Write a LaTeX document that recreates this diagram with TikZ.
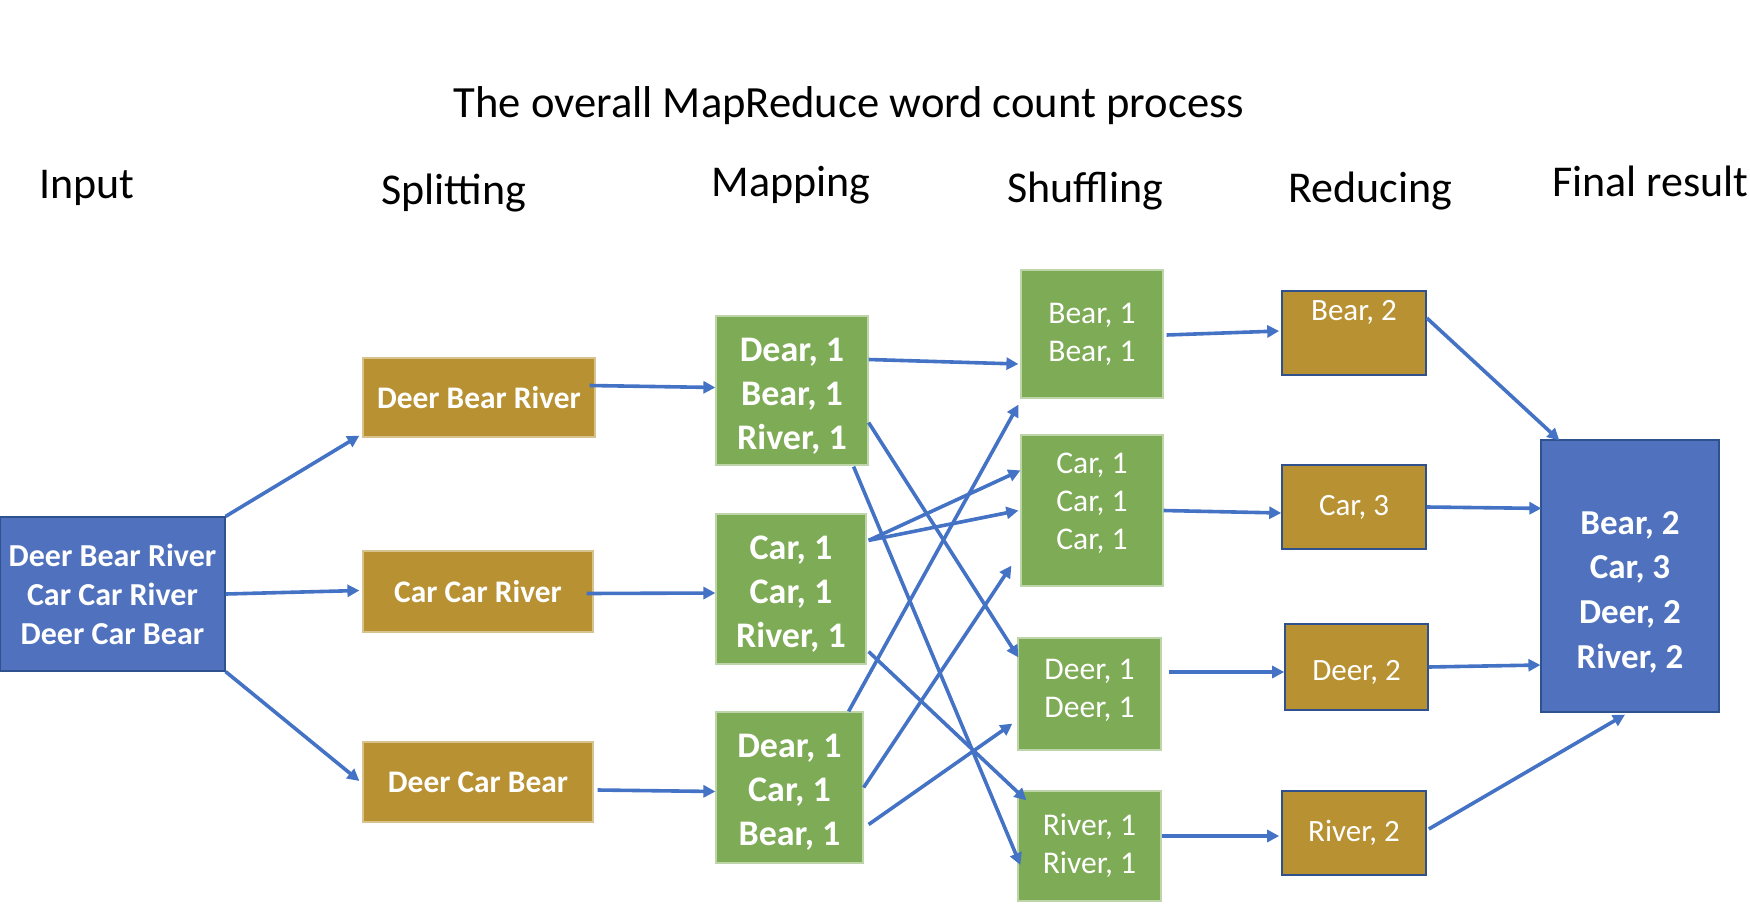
\documentclass[tikz,border=0pt]{standalone}
\usepackage{fontspec}
\setmainfont{Carlito}
\usetikzlibrary{arrows.meta,calc}
\definecolor{gold}{HTML}{B89232}
\definecolor{mgreen}{HTML}{7EAB55}
\definecolor{mblue}{HTML}{5072BE}
\definecolor{dblue}{HTML}{2F528F}
\definecolor{arr}{HTML}{4472C4}
\begin{document}
\begin{tikzpicture}[x=0.5pt,y=-0.5pt,
  box/.style={rectangle, inner sep=0pt, text=white, align=center},
  inbox/.style={box, fill=mblue, draw=dblue, line width=0.6pt},
  splitbox/.style={box, fill=gold, draw=gold!55!white, line width=0.6pt, font=\bfseries\fontsize{15.7}{19}\selectfont},
  mapbox/.style={box, fill=mgreen, draw=mgreen!50!white, line width=0.6pt},
  maptext/.style={box, font=\bfseries\fontsize{18}{22}\selectfont},
  shufbox/.style={box, fill=mgreen, draw=mgreen!50!white, line width=0.6pt, font=\fontsize{15.8}{19}\selectfont},
  shuftext/.style={box, font=\fontsize{15.8}{19}\selectfont},
  redbox/.style={box, fill=gold, draw=dblue, line width=0.8pt, font=\fontsize{15.5}{19}\selectfont},
  redtext/.style={box, font=\fontsize{15.5}{19}\selectfont},
  head/.style={anchor=base west, inner sep=0pt, font=\fontsize{22}{26}\selectfont},
  conn/.style={draw=arr, line width=1.8pt, -{Triangle[length=6pt,width=6pt]}},
]
\useasboundingbox (0,0) rectangle (1750,910);

% title and headings
\node[anchor=base, inner sep=0pt, font=\fontsize{22.3}{26}\selectfont] (title) at (849,117) {The overall MapReduce word count process};
\node[head] (hinput) at (39,198) {Input};
\node[head] (hsplit) at (381,204) {Splitting};
\node[head] (hmap) at (711,196) {Mapping};
\node[head] (hshuf) at (1007,202) {Shuffling};
\node[head] (hred) at (1288,202) {Reducing};
\node[head] (hfinal) at (1552,196) {Final result};

% input
\node[inbox, font=\bfseries\fontsize{16}{19.5}\selectfont, minimum width=112.5pt, minimum height=77pt] (input) at (112.5,594)
  {Deer Bear River\\Car Car River\\Deer Car Bear};

% splitting
\node[splitbox, minimum width=116pt, minimum height=39.5pt] (split1) at (479,397.5) {Deer Bear River};
\node[splitbox, minimum width=115pt, minimum height=40.5pt] (split2) at (478,591.5) {Car Car River};
\node[splitbox, minimum width=115pt, minimum height=40pt] (split3) at (478,782) {Deer Car Bear};

% mapping
\node[mapbox, minimum width=76pt, minimum height=74.5pt] (map1) at (792,390.5) {};
\node[maptext] (map1t) at ($(map1.center)+(0,6)$) {Dear, 1\\Bear, 1\\River, 1};
\node[mapbox, minimum width=75pt, minimum height=75pt] (map2) at (791,589) {};
\node[maptext] (map2t) at ($(map2.center)+(0,5)$) {Car, 1\\Car, 1\\River, 1};
\node[mapbox, minimum width=73.5pt, minimum height=75.5pt] (map3) at (789.5,787.5) {};
\node[maptext] (map3t) at ($(map3.center)+(0,5)$) {Dear, 1\\Car, 1\\Bear, 1};

% shuffling
\node[shufbox, minimum width=71pt, minimum height=64pt] (shuf1) at (1092,334) {Bear, 1\\Bear, 1};
\node[shufbox, minimum width=71pt, minimum height=75.5pt] (shuf2) at (1092,510.5) {};
\node[shuftext] (shuf2t) at ($(shuf2.center)+(0,-7)$) {Car, 1\\Car, 1\\Car, 1};
\node[shufbox, minimum width=71.5pt, minimum height=56pt] (shuf3) at (1089.5,694) {};
\node[shuftext] (shuf3t) at ($(shuf3.center)+(0,-4)$) {Deer, 1\\Deer, 1};
\node[shufbox, minimum width=71.5pt, minimum height=55pt] (shuf4) at (1089.5,846) {River, 1\\River, 1};

% reducing
\node[redbox, minimum width=72pt, minimum height=42pt] (red1) at (1354,333) {};
\node[redtext] (red1t) at ($(red1.north)+(0,22)$) {Bear, 2};
\node[redbox, minimum width=72pt, minimum height=42pt] (red2) at (1354,507) {Car, 3};
\node[redbox, minimum width=71.5pt, minimum height=43pt] (red3) at (1356.5,667) {};
\node[redtext] (red3t) at ($(red3.center)+(0,5)$) {Deer, 2};
\node[redbox, minimum width=72pt, minimum height=42pt] (red4) at (1354,833) {River, 2};

% final
\node[inbox, minimum width=89pt, minimum height=136pt] (final) at (1630,576) {};
\node[box, font=\bfseries\fontsize{17.5}{22.3}\selectfont] (finalt) at ($(final.center)+(0,16)$)
  {Bear, 2\\Car, 3\\Deer, 2\\River, 2};

% connectors
\draw[conn] (input.north east) -- ($(split1.south west)+(-3,-2)$);
\draw[conn] (input.east) -- ($(split2.west)+(-3,-1)$);
\draw[conn] (input.south east) -- ($(split3.west)+(-3,-1)$);

\draw[conn] ($(split1.east)+(-6,-12)$) -- ($(map1.west)+(0,-3)$);
\draw[conn] ($(split2.east)+(-7,2)$) -- ($(map2.west)+(0,4)$);
\draw[conn] ($(split3.east)+(4,8)$) -- ($(map3.west)+(0,4)$);

\draw[conn] ($(map1.east)+(0,-31)$) -- ($(shuf1.west)+(-2,30)$);
\draw[conn] ($(map1.east)+(0,32)$) -- ($(shuf3.north west)+(1,20)$);
\draw[conn] ($(map1.south east)+(-15,1)$) -- ($(shuf4.west)+(3,19)$);
\draw[conn] ($(map2.north east)+(2,27)$) -- ($(shuf2.north west)+(0,36)$);
\draw[conn] ($(map2.north east)+(2,27)$) -- ($(shuf2.west)+(-2,0)$);
\draw[conn] ($(map2.south east)+(2,-13)$) -- ($(shuf4.north west)+(9,10)$);
\draw[conn] ($(map3.north east)+(-15,0)$) -- ($(shuf1.south west)+(-2,6)$);
\draw[conn] (map3.east) -- ($(shuf2.south west)+(-9,-21)$);
\draw[conn] ($(map3.east)+(5,37)$) -- ($(shuf3.south west)+(-5,-27)$);

\draw[conn] ($(shuf1.east)+(3,1)$) -- ($(red1.west)+(-2,-2)$);
\draw[conn] (shuf2.east) -- ($(red2.west)+(0,6)$);
\draw[conn] ($(shuf3.east)+(7,-22)$) -- ($(red3.west)+(0,5)$);
\draw[conn] ($(shuf4.east)+(0,-10)$) -- ($(red4.west)+(-2,3)$);

\draw[conn] ($(red1.east)+(0,-15)$) -- ($(final.north west)+(19,1)$);
\draw[conn] (red2.east) -- ($(final.north west)+(1,69)$);
\draw[conn] (red3.east) -- ($(final.west)+(0,89)$);
\draw[conn] ($(red4.east)+(2,-4)$) -- ($(final.south)+(-5,2)$);
\end{tikzpicture}
\end{document}
